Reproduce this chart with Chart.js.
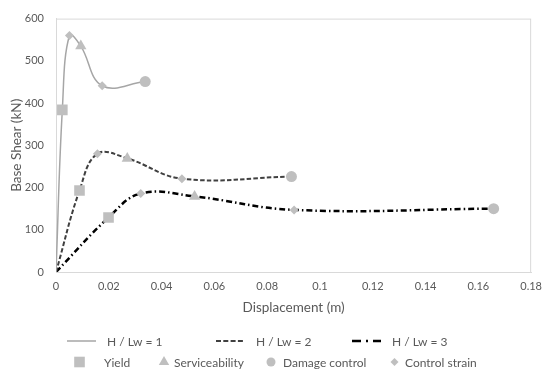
<!DOCTYPE html>
<html>
<head>
<meta charset="utf-8">
<script src="https://cdn.jsdelivr.net/npm/chart.js"></script>
<style>
    body { margin: 0; background: #fff; }
    #wrap { width: 550px; height: 374px; }
</style>
</head>
<body>
<div id="wrap"><canvas id="myChart"></canvas></div>
<script>
// curves: displacement (m) and base shear (kN)
const curveNames = ['H / Lw = 1', 'H / Lw = 2', 'H / Lw = 3']
const disp1 = [0, 0.0024, 0.0051, 0.0094, 0.0175, 0.0338]
const shear1 = [0, 384, 560, 535, 441, 451]
const disp2 = [0, 0.0089, 0.0157, 0.0270, 0.0477, 0.0892]
const shear2 = [0, 193, 280, 269, 221, 226]
const disp3 = [0, 0.0199, 0.0321, 0.0525, 0.0902, 0.1658]
const shear3 = [0, 129, 186, 179, 147, 150]
// performance level of each point along a curve (same on all three)
const pointLevels = ['', 'Yield', 'Control strain', 'Serviceability', 'Control strain', 'Damage control']
const levelNames = ['Yield', 'Serviceability', 'Damage control', 'Control strain']
// axes
const xMax = 0.18
const xStep = 0.02
const yMax = 600
const yStep = 100

const textColor = '#595959'
const fontFamily = 'Lato, "Open Sans", sans-serif'
const markerColor = '#bfbfbf'

const lineStyles = [
    { borderColor: '#a6a6a6', borderWidth: 1.5, borderDash: [] },
    { borderColor: '#404040', borderWidth: 2, borderDash: [4.5, 2.2] },
    { borderColor: '#000000', borderWidth: 2.5, borderDash: [6, 3, 1.5, 3] },
]
const legendDash = [[], [5, 2.3], [9, 5, 2, 5]]
const markerStyles = {
    'Yield': { pointStyle: 'rect', pointRadius: 7.5 },
    'Serviceability': { pointStyle: 'triangle', pointRadius: 6.5 },
    'Damage control': { pointStyle: 'circle', pointRadius: 5.5 },
    'Control strain': { pointStyle: 'rectRot', pointRadius: 4.5 },
}

const curves = [[disp1, shear1], [disp2, shear2], [disp3, shear3]]

const lineSets = curves.map(([xs, ys], i) => ({
    label: curveNames[i],
    data: xs.map((x, j) => ({ x: x, y: ys[j] })),
    showLine: true,
    fill: false,
    tension: 0.4,
    pointRadius: 0,
    order: 2,
    ...lineStyles[i],
}))

const markerSets = levelNames.map(level => {
    const pts = []
    curves.forEach(([xs, ys]) => {
        xs.forEach((x, j) => {
            if (pointLevels[j] === level) pts.push({ x: x, y: ys[j] })
        })
    })
    return {
        label: level,
        data: pts,
        showLine: false,
        backgroundColor: markerColor,
        borderColor: markerColor,
        borderWidth: 0,
        order: 1,
        ...markerStyles[level],
    }
})

// box round the plot area
const plotBox = {
    id: 'plotBox',
    beforeDatasetsDraw(chart) {
        const { ctx, chartArea: a } = chart
        ctx.save()
        ctx.strokeStyle = '#d9d9d9'
        ctx.lineWidth = 1
        ctx.strokeRect(a.left + 0.5, a.top + 0.5, a.right - a.left - 1, a.bottom - a.top)
        ctx.restore()
    }
}

// two row legend like the Excel one
const twoRowLegend = {
    id: 'twoRowLegend',
    afterDraw(chart) {
        const ctx = chart.ctx
        ctx.save()
        ctx.font = '12px ' + fontFamily
        ctx.textBaseline = 'middle'
        const row1 = { y: 341, starts: [67, 216, 352], len: 29, gap: 11 }
        lineSets.forEach((ds, i) => {
            const x0 = row1.starts[i]
            ctx.strokeStyle = ds.borderColor
            ctx.lineWidth = ds.borderWidth
            ctx.setLineDash(legendDash[i])
            ctx.beginPath()
            ctx.moveTo(x0, row1.y)
            ctx.lineTo(x0 + row1.len, row1.y)
            ctx.stroke()
            ctx.setLineDash([])
            ctx.fillStyle = textColor
            ctx.fillText(ds.label, x0 + row1.len + row1.gap, row1.y + 1)
        })
        const row2 = { y: 362, centers: [79.5, 164, 271, 394.5], textAt: [104, 174, 283, 405] }
        const legendRadius = { 'Yield': 7.5, 'Serviceability': 6, 'Damage control': 4.5, 'Control strain': 4 }
        markerSets.forEach((ds, i) => {
            ctx.fillStyle = markerColor
            Chart.helpers.drawPoint(ctx, {
                pointStyle: ds.pointStyle,
                radius: legendRadius[ds.label],
                rotation: 0,
                borderWidth: 0,
            }, row2.centers[i], row2.y)
            ctx.fillStyle = textColor
            ctx.fillText(ds.label, row2.textAt[i], row2.y + 1)
        })
        ctx.restore()
    }
}

new Chart(document.getElementById('myChart').getContext('2d'), {
    type: 'scatter',
    data: { datasets: [...markerSets, ...lineSets] },
    plugins: [plotBox, twoRowLegend],
    options: {
        responsive: true,
        maintainAspectRatio: false,
        animation: false,
        layout: { padding: { top: 12, right: 17, bottom: 56, left: 4 } },
        plugins: { legend: { display: false }, tooltip: { enabled: false } },
        scales: {
            x: {
                type: 'linear',
                min: 0,
                max: xMax,
                ticks: {
                    stepSize: xStep,
                    padding: 8,
                    color: textColor,
                    font: { family: fontFamily, size: 11 },
                    maxRotation: 0,
                    callback: v => String(+v.toFixed(2)),
                },
                grid: { display: false, drawTicks: false },
                border: { color: '#d9d9d9' },
                title: {
                    display: true,
                    text: 'Displacement (m)',
                    color: textColor,
                    font: { family: fontFamily, size: 13.5 },
                    padding: { top: 4, bottom: 2 },
                },
                afterFit(s) { s.height = 46 },
            },
            y: {
                min: 0,
                max: yMax,
                ticks: {
                    stepSize: yStep,
                    padding: 12,
                    color: textColor,
                    font: { family: fontFamily, size: 11 },
                },
                grid: { display: false, drawTicks: false },
                border: { color: '#d9d9d9' },
                title: {
                    display: true,
                    text: 'Base Shear (kN)',
                    color: textColor,
                    font: { family: fontFamily, size: 13.5 },
                    padding: { top: 5, bottom: 0 },
                },
                afterFit(s) { s.width = 52 },
            },
        },
    },
})
</script>
</body>
</html>
